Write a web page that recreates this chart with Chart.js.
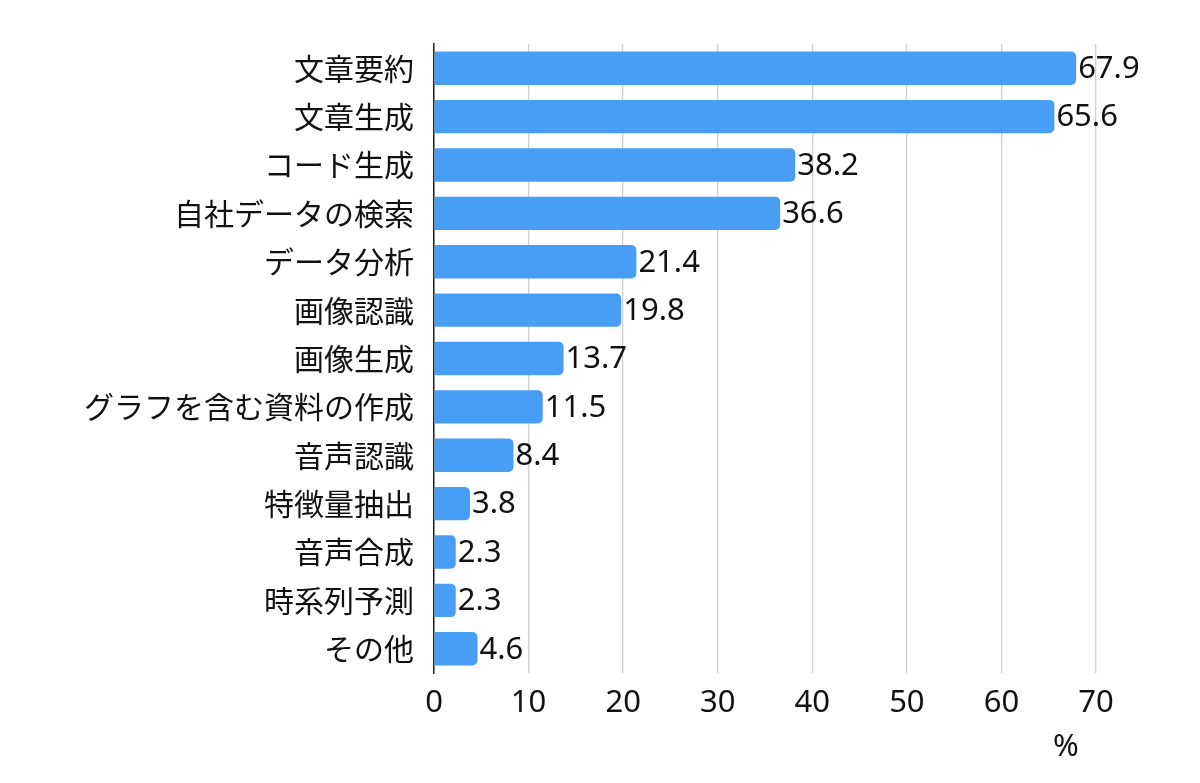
<!DOCTYPE html>
<html lang="ja">
<head>
<meta charset="utf-8">
<title>生成AIの用途</title>
<script src="https://cdn.jsdelivr.net/npm/chart.js@4/dist/chart.umd.min.js"></script>
<style>
  html, body { margin: 0; padding: 0; background: #fff; }
  canvas { display: block; }
</style>
</head>
<body>
<canvas id="usageChart" width="1200" height="783"></canvas>
<script>
// Categories and values (%)
const categories = [
  '文章要約', '文章生成', 'コード生成', '自社データの検索', 'データ分析',
  '画像認識', '画像生成', 'グラフを含む資料の作成', '音声認識', '特徴量抽出',
  '音声合成', '時系列予測', 'その他'
];
const shares = [67.9, 65.6, 38.2, 36.6, 21.4, 19.8, 13.7, 11.5, 8.4, 3.8, 2.3, 2.3, 4.6];
const xTicks = [0, 10, 20, 30, 40, 50, 60, 70];
const unitLabel = '%';

const FONT = '"Noto Sans CJK JP", "Noto Sans", sans-serif';
const NUM_FONT = '"Noto Sans", "Noto Sans CJK JP", sans-serif';

// Draw the value next to each bar end
const valueLabels = {
  id: 'valueLabels',
  afterDatasetsDraw(chart) {
    const ctx = chart.ctx;
    const meta = chart.getDatasetMeta(0);
    ctx.save();
    ctx.font = `31px ${NUM_FONT}`;
    ctx.fillStyle = '#111';
    ctx.textAlign = 'left';
    ctx.textBaseline = 'middle';
    meta.data.forEach((bar, i) => {
      ctx.fillText(shares[i].toFixed(1), bar.x + 2, bar.y + 1);
    });
    ctx.restore();
  }
};

// Unit label under the axis, near the right end
const unitText = {
  id: 'unitText',
  afterDraw(chart) {
    const ctx = chart.ctx;
    const area = chart.chartArea;
    ctx.save();
    ctx.font = `31px ${NUM_FONT}`;
    ctx.fillStyle = '#111';
    ctx.textAlign = 'center';
    ctx.textBaseline = 'middle';
    ctx.fillText(unitLabel, area.right - 30, area.bottom + 74);
    ctx.restore();
  }
};

new Chart(document.getElementById('usageChart').getContext('2d'), {
  type: 'bar',
  data: {
    labels: categories,
    datasets: [{
      data: shares,
      backgroundColor: '#489ef5',
      borderRadius: 5,
      borderSkipped: 'start',
      categoryPercentage: 1,
      barPercentage: 0.69
    }]
  },
  options: {
    indexAxis: 'y',
    responsive: false,
    animation: false,
    layout: { padding: { top: 44, right: 104, bottom: 0, left: 0 } },
    plugins: {
      legend: { display: false },
      tooltip: { enabled: false }
    },
    scales: {
      x: {
        min: 0,
        max: 70,
        afterBuildTicks(scale) {
          scale.ticks = xTicks.map(v => ({ value: v }));
        },
        afterFit(scale) { scale.height = 110; },
        grid: { color: '#d0d0d0', lineWidth: 1.3, drawTicks: false },
        border: { display: false },
        ticks: {
          color: '#111',
          padding: 12,
          font: { family: NUM_FONT, size: 31 }
        }
      },
      y: {
        afterFit(scale) { scale.width = 434; },
        grid: { display: false, drawTicks: false },
        border: { display: true, color: '#222', width: 1.5 },
        ticks: {
          color: '#111',
          padding: 20,
          font: { family: FONT, size: 30 }
        }
      }
    }
  },
  plugins: [valueLabels, unitText]
});
</script>
</body>
</html>
